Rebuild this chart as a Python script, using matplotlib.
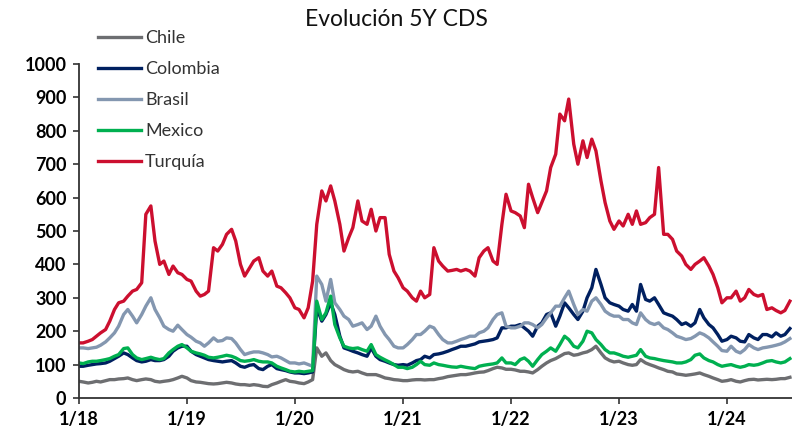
import matplotlib
matplotlib.use("Agg")
import matplotlib.pyplot as plt
import matplotlib.dates as mdates
import pandas as pd
import numpy as np

plt.rcParams['font.family'] = ['Lato', 'DejaVu Sans']

# semi-monthly observation dates (1st and 15th), Jan 2018 - Aug 2024
dates = pd.date_range('2018-01-01', '2024-08-01', freq='SMS')

chile = [
    50, 48, 45, 47, 50, 48, 52, 55, 55, 57, 58, 60, 55, 52, 55, 57, 55, 50, 48, 50, 52, 55, 60, 65,
    60, 52, 48, 47, 45, 43, 42, 43, 45, 47, 45, 42, 40, 40, 38, 40, 38, 35, 34, 40, 45, 50, 55, 50,
    48, 45, 43, 48, 55, 150, 125, 135, 112, 100, 92, 85, 80, 78, 80, 75, 70, 70, 70, 66, 60, 58, 55, 54,
    52, 52, 54, 55, 55, 54, 55, 55, 58, 60, 64, 66, 68, 70, 70, 72, 75, 77, 78, 82, 88, 92, 90, 86,
    86, 84, 80, 80, 78, 75, 85, 95, 105, 112, 118, 125, 133, 135, 128, 130, 135, 138, 145, 155, 135, 120, 112, 108,
    110, 105, 100, 98, 100, 115, 105, 100, 95, 90, 85, 80, 78, 72, 70, 68, 70, 72, 75, 70, 65, 60, 55, 50,
    52, 55, 50, 48, 52, 55, 56, 54, 55, 56, 55, 56, 58, 58, 62,
]

colombia = [
    95, 95, 98, 100, 102, 103, 105, 110, 118, 125, 135, 130, 120, 112, 108, 110, 115, 112, 112, 115, 125, 140, 150, 155,
    155, 140, 130, 125, 120, 115, 112, 110, 108, 110, 112, 105, 95, 92, 98, 100, 88, 85, 95, 100, 88, 85, 82, 78,
    75, 75, 73, 75, 78, 270, 230, 250, 285, 250, 185, 150, 145, 140, 135, 130, 125, 150, 125, 115, 110, 105, 100, 98,
    100, 98, 105, 112, 115, 125, 120, 130, 132, 135, 140, 145, 150, 155, 155, 158, 162, 168, 170, 172, 175, 180, 210, 210,
    215, 215, 220, 210, 200, 185, 215, 225, 250, 255, 215, 245, 285, 270, 250, 235, 260, 300, 330, 385, 340, 300, 285, 280,
    275, 265, 260, 280, 260, 340, 295, 290, 300, 280, 255, 250, 245, 235, 220, 225, 215, 225, 265, 240, 220, 210, 190, 170,
    175, 185, 180, 170, 168, 190, 180, 175, 190, 190, 183, 195, 185, 190, 208,
]

brasil = [
    150, 150, 148, 150, 152, 158, 168, 180, 195, 215, 250, 265, 245, 225, 250, 275, 300, 265, 240, 215, 205, 200, 218, 205,
    190, 182, 170, 165, 155, 165, 180, 170, 172, 180, 178, 165, 145, 130, 135, 138, 138, 135, 130, 123, 125, 120, 112, 105,
    105, 102, 105, 100, 95, 365, 340, 290, 355, 285, 265, 245, 235, 215, 220, 225, 205, 215, 245, 215, 190, 175, 155, 150,
    150, 160, 175, 190, 190, 200, 215, 210, 190, 175, 165, 165, 170, 175, 180, 185, 185, 195, 200, 210, 235, 250, 255, 215,
    210, 210, 215, 225, 225, 220, 210, 220, 240, 255, 275, 275, 300, 320, 280, 250, 265, 260, 290, 300, 280, 260, 250, 245,
    245, 235, 235, 225, 220, 255, 235, 225, 220, 225, 210, 205, 195, 185, 180, 175, 178, 185, 195, 190, 180, 168, 155, 142,
    140, 155, 140, 135, 145, 160, 150, 145, 150, 152, 155, 158, 162, 168, 178,
]

mexico = [
    105, 103, 108, 110, 110, 112, 115, 118, 125, 130, 148, 150, 130, 120, 115, 118, 122, 118, 115, 118, 135, 145, 155, 160,
    150, 140, 135, 132, 128, 122, 120, 122, 125, 128, 125, 120, 112, 110, 112, 115, 110, 108, 108, 105, 95, 90, 85, 80,
    78, 80, 78, 80, 82, 290, 235, 255, 305, 220, 180, 155, 150, 148, 150, 145, 140, 160, 130, 122, 114, 108, 100, 92,
    92, 88, 92, 100, 110, 100, 98, 105, 100, 98, 95, 93, 92, 95, 92, 90, 88, 95, 98, 100, 102, 105, 120, 105,
    105, 100, 115, 120, 110, 95, 115, 130, 140, 150, 140, 160, 185, 175, 155, 150, 170, 200, 195, 175, 160, 145, 135, 135,
    130, 125, 122, 125, 128, 145, 125, 120, 118, 115, 112, 110, 108, 105, 105, 108, 115, 128, 132, 120, 112, 108, 100, 95,
    98, 100, 95, 92, 95, 100, 98, 100, 105, 110, 112, 108, 105, 108, 118,
]

turquia = [
    165, 165, 170, 175, 185, 195, 205, 230, 265, 285, 290, 305, 320, 325, 345, 550, 575, 470, 400, 410, 370, 395, 375, 370,
    355, 350, 320, 305, 310, 320, 450, 440, 460, 490, 505, 470, 400, 365, 390, 410, 420, 380, 365, 380, 335, 330, 315, 300,
    270, 265, 240, 270, 350, 520, 620, 590, 635, 590, 520, 440, 480, 510, 590, 530, 520, 565, 500, 540, 540, 430, 380, 360,
    330, 320, 300, 290, 320, 300, 310, 450, 410, 395, 380, 382, 385, 380, 385, 380, 365, 420, 440, 450, 410, 400, 520, 610,
    560, 555, 545, 510, 640, 600, 555, 585, 620, 690, 730, 850, 830, 895, 760, 700, 770, 720, 775, 740, 650, 585, 530, 505,
    530, 515, 550, 520, 560, 520, 525, 540, 550, 690, 490, 490, 475, 440, 425, 400, 385, 400, 410, 420, 395, 370, 330, 285,
    300, 300, 320, 290, 300, 325, 310, 305, 310, 265, 270, 262, 255, 262, 290,
]

series = [
    ('Chile', chile, '#6d6e71'),
    ('Colombia', colombia, '#002060'),
    ('Brasil', brasil, '#8497b0'),
    ('Mexico', mexico, '#00b050'),
    ('Turquía', turquia, '#cc0f2f'),
]

year_ticks = pd.to_datetime(['2018-01-01', '2019-01-01', '2020-01-01', '2021-01-01',
                             '2022-01-01', '2023-01-01', '2024-01-01'])
year_labels = ['1/18', '1/19', '1/20', '1/21', '1/22', '1/23', '1/24']
y_ticks = list(range(0, 1001, 100))

fig = plt.figure(figsize=(7.92, 4.34), dpi=100)
ax = fig.add_axes([79/792, 1 - 398/434, 1 - 79/792, (398 - 64)/434])

handles = []
for name, vals, col in series:
    h, = ax.plot(dates, vals, color=col, lw=2.4, label=name, solid_joinstyle='round')
    handles.append(h)

ax.set_ylim(0, 1000)
ax.set_xlim(pd.Timestamp('2018-01-01'), pd.Timestamp('2024-08-08'))
ax.set_yticks(y_ticks)
ax.set_yticklabels([str(v) for v in y_ticks], fontweight='bold', fontsize=13)
ax.set_xticks(year_ticks)
ax.set_xticklabels(year_labels, fontweight='bold', fontsize=13)
ax.tick_params(axis='both', direction='out', length=4, width=1.2, color='#333333')
ax.tick_params(axis='x', pad=5)
ax.tick_params(axis='y', pad=5)
for s in ['top', 'right']:
    ax.spines[s].set_visible(False)
for s in ['left', 'bottom']:
    ax.spines[s].set_linewidth(1.3)
    ax.spines[s].set_color('#333333')

fig.text(0.5, 1 - 20/434, 'Evolución 5Y CDS', ha='center', va='center', fontsize=16.5, color='#111111')

leg = fig.legend(handles=handles, loc='upper left', bbox_to_anchor=(98/792, 1 - 30/434),
                 frameon=False, fontsize=13, handlelength=2.4, handletextpad=0.2,
                 labelspacing=0.83, borderaxespad=0, borderpad=0)
for t in leg.get_texts():
    t.set_color('#333333')

fig.savefig('out.png', dpi=100)
